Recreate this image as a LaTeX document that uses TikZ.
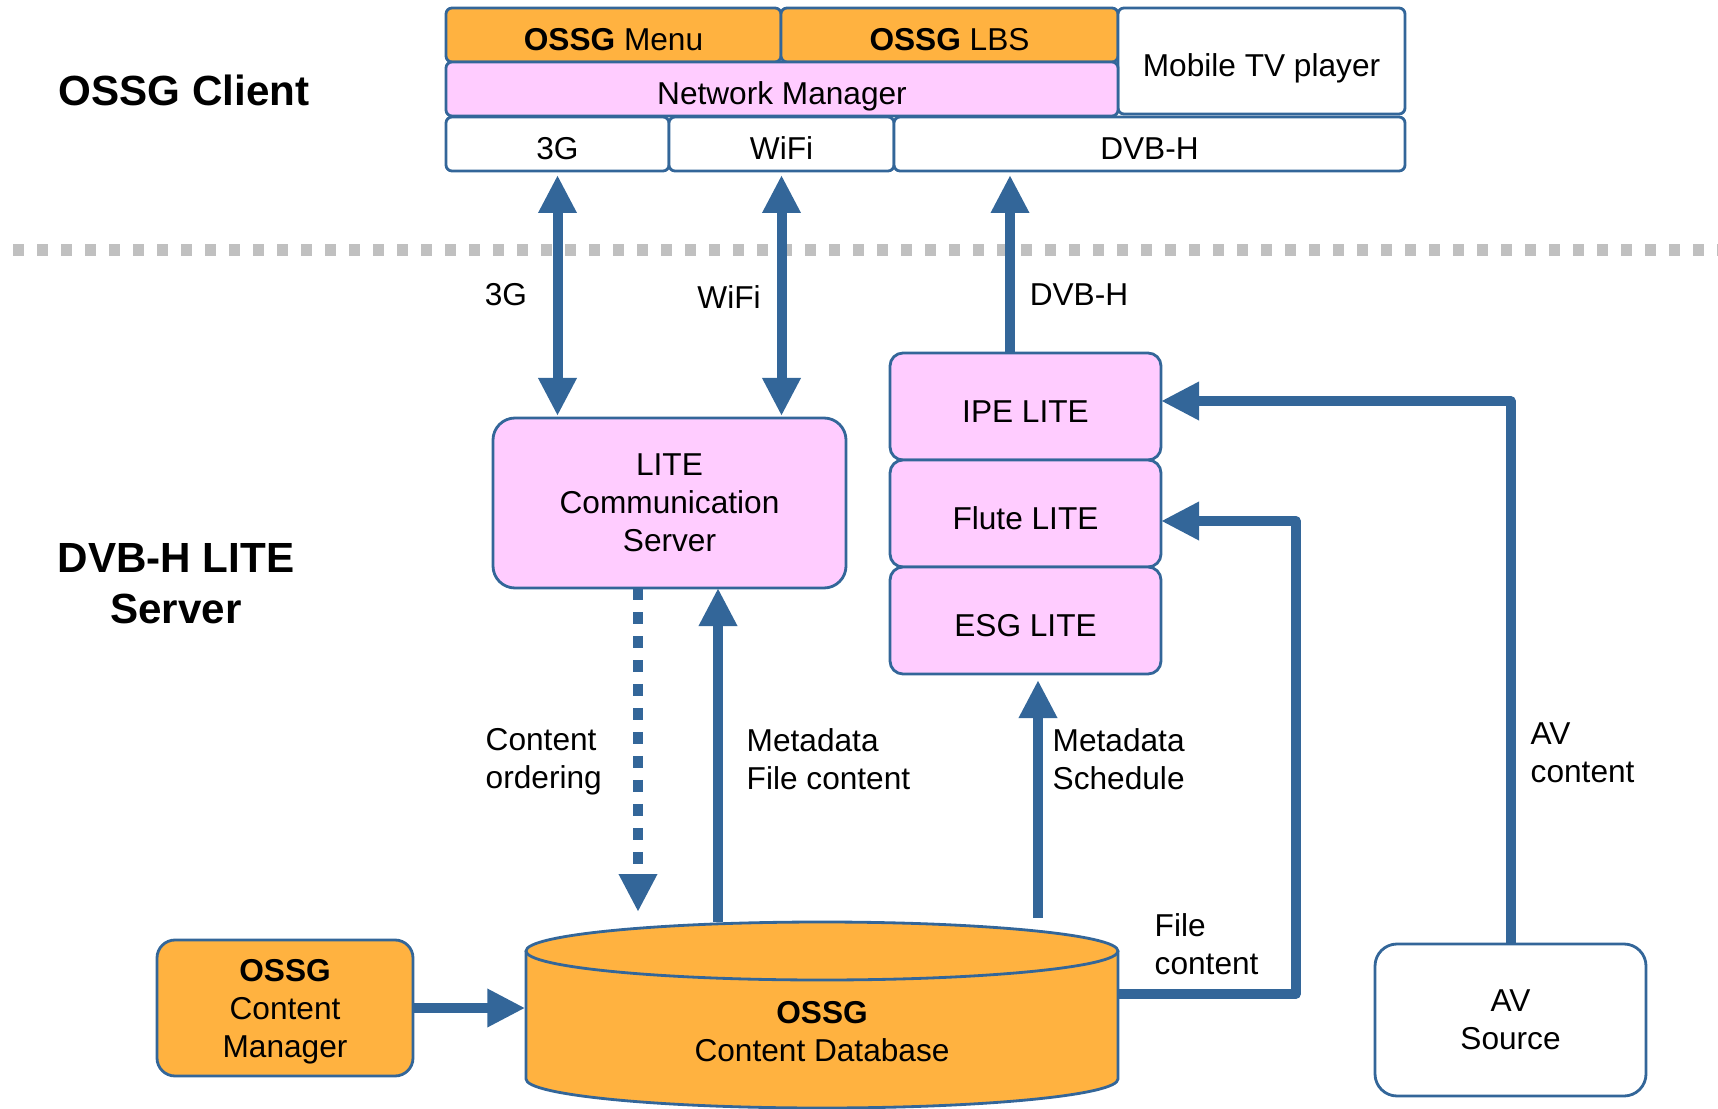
\documentclass[tikz,border=0pt]{standalone}
\usepackage{fontspec}
\setmainfont{Liberation Sans}
\usepackage{tikz}
\usetikzlibrary{positioning}
\usetikzlibrary{arrows.meta}
\definecolor{ossgblue}{RGB}{51,102,153}
\definecolor{ossgorange}{RGB}{255,178,64}
\definecolor{ossgpink}{RGB}{255,204,255}
\definecolor{sepgray}{RGB}{192,192,192}
\tikzset{every node/.style={font=\fontsize{9}{10.8}\selectfont},
box/.style={ % Sets the properties for each block
draw=ossgblue,
line width=0.8pt,
fill=white,
rounded corners=0.06cm,
inner sep=0pt,
outer sep=0pt,
align=center,
minimum height=0.54cm},
orangebox/.style={box, fill=ossgorange},
pinkbox/.style={box, fill=ossgpink},
flat/.style={text height=0.9em, text depth=0pt}, % one line of text, set a bit low
head/.style={font=\bfseries\fontsize{12}{14.5}\selectfont, inner sep=0pt, align=center},
lbl/.style={inner sep=0pt, align=left}, % No frame round the labels
flow/.style={ % Sets the properties for each data flow
draw=ossgblue,
line width=0.1cm,
line join=round,
>={Triangle[width=0.36cm,length=0.38cm]}},
order/.style={flow, ->, dash pattern=on 0.12cm off 0.12cm},
sepline/.style={draw=sepgray, line width=0.12cm, dash pattern=on 0.11cm off 0.13cm}}

\begin{document}
\begin{tikzpicture}
\useasboundingbox (0,0) rectangle (17.18,-11.09);
% client side
\node[head] (client) at (1.84,-0.90) {OSSG Client};
\node[orangebox, flat, minimum width=3.35cm] (menu) at (6.135,-0.35) {\textbf{OSSG} Menu};
\node[orangebox, flat, minimum width=3.37cm, right=0pt of menu] (lbs) {\textbf{OSSG} LBS};
\node[box, flat, minimum width=2.87cm, minimum height=1.06cm, right=0pt of lbs.north east, anchor=north west] (mtv) {Mobile TV player};
\node[pinkbox, flat, minimum width=6.72cm] (netmgr) at (7.82,-0.89) {Network Manager};
\node[box, flat, minimum width=2.23cm] (g3) at (5.575,-1.44) {3G};
\node[box, flat, minimum width=2.25cm, right=0pt of g3] (wifi) {WiFi};
\node[box, flat, minimum width=5.11cm, right=0pt of wifi] (dvbh) {DVB-H};
\coordinate (sepl) at (0.13,-2.50);
\coordinate (sepr) at (17.18,-2.50);
\draw[sepline] (sepl) -- (sepr);
% server side
\node[head] (server) at (1.76,-5.835) {DVB-H LITE\\Server};
\node[pinkbox, minimum width=3.53cm, minimum height=1.70cm, rounded corners=0.22cm] (lcs) at (6.695,-5.03) {LITE\\Communication\\Server};
\node[pinkbox, flat, minimum width=2.71cm, minimum height=1.07cm, rounded corners=0.13cm] (ipe) at (10.255,-4.065) {IPE LITE};
\node[pinkbox, flat, minimum width=2.71cm, minimum height=1.07cm, rounded corners=0.13cm, below=0pt of ipe] (flute) {Flute LITE};
\node[pinkbox, flat, minimum width=2.71cm, minimum height=1.07cm, rounded corners=0.13cm, below=0pt of flute] (esg) {ESG LITE};
\node[orangebox, minimum width=2.56cm, minimum height=1.36cm, rounded corners=0.18cm, text depth=0pt] (mgr) at (2.85,-10.08) {\textbf{OSSG}\\Content\\Manager};
\node[box, minimum width=2.71cm, minimum height=1.52cm, rounded corners=0.22cm] (avs) at (15.105,-10.20) {AV\\Source};
% content database
\fill[ossgorange] (5.26,-9.51) -- (5.26,-10.79) arc[start angle=180, end angle=360, x radius=2.96cm, y radius=0.29cm] -- (11.18,-9.51) -- cycle;
\draw[ossgblue, line width=0.8pt] (5.26,-9.51) -- (5.26,-10.79) arc[start angle=180, end angle=360, x radius=2.96cm, y radius=0.29cm] -- (11.18,-9.51);
\filldraw[fill=ossgorange, draw=ossgblue, line width=0.8pt] (8.22,-9.51) ellipse [x radius=2.96cm, y radius=0.29cm];
\node[lbl, align=center, minimum width=5.92cm] (db) at (8.22,-10.32) {\textbf{OSSG}\\Content Database};
\coordinate (dbtop) at (8.22,-9.22);
% labels
\node[lbl] (l3g) at (5.06,-2.95) {3G};
\node[lbl] (lwifi) at (7.29,-2.97) {WiFi};
\node[lbl] (ldvbh) at (10.79,-2.95) {DVB-H};
\node[lbl, anchor=west] (lorder) at (4.85,-7.615) {Content\\ordering};
\node[lbl, anchor=west] (lmeta) at (7.46,-7.595) {Metadata\\File content};
\node[lbl, anchor=west] (lsched) at (10.52,-7.595) {Metadata\\Schedule};
\node[lbl, anchor=west] (lfile) at (11.54,-9.445) {File\\content};
\node[lbl, anchor=west] (lav) at (15.30,-7.53) {AV\\content};
% flows
\draw[flow, <->, shorten <=0.04cm, shorten >=0.02cm] (g3.south) -- (g3.south |- lcs.north);
\draw[flow, <->, shorten <=0.04cm, shorten >=0.02cm] (wifi.south) -- (wifi.south |- lcs.north);
\coordinate (ipeout) at ([xshift=-0.155cm]ipe.north);
\draw[flow, ->, shorten >=0.04cm] (ipeout) -- (ipeout |- dvbh.south);
\coordinate (orderout) at ([xshift=-0.315cm]lcs.south);
\draw[order, shorten >=0.10cm] (orderout) -- (orderout |- dbtop);
\coordinate (metain) at ([xshift=0.485cm]lcs.south);
\draw[flow, ->] (metain |- dbtop) -- (metain);
\coordinate (schedin) at ([xshift=0.125cm]esg.south);
\draw[flow, ->, shorten <=0.04cm, shorten >=0.06cm] (schedin |- dbtop) -- (schedin);
\draw[flow, ->] (mgr.east) -- (mgr.east -| db.west);
\draw[flow, ->] ([yshift=0.38cm]db.east) -- ++(1.77,0) |- ([yshift=-0.075cm]flute.east);
\draw[flow, ->] (avs.north) |- ([yshift=0.055cm]ipe.east);
\end{tikzpicture}
\end{document}
